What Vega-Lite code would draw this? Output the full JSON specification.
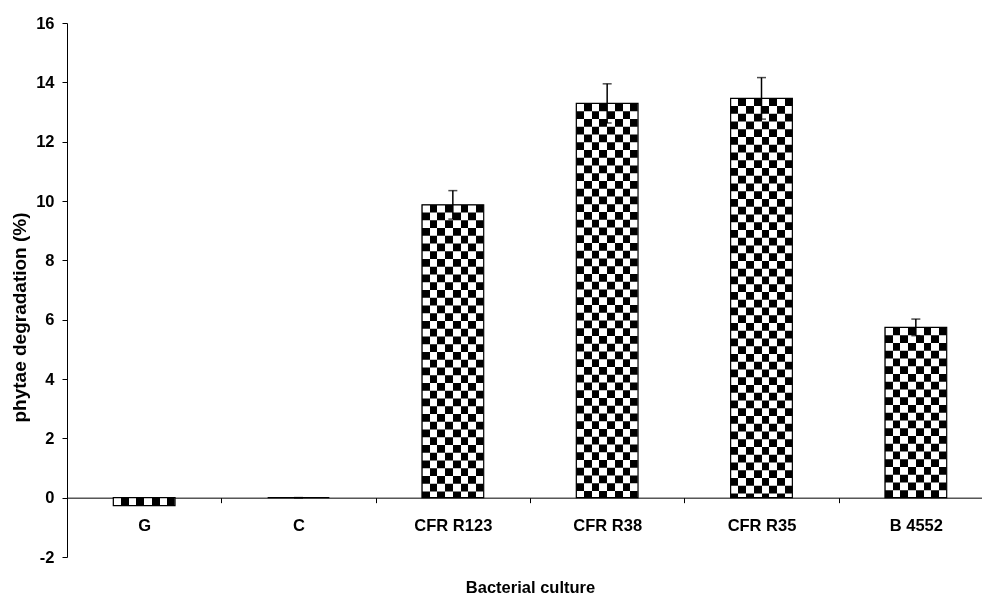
{
  "$schema": "https://vega.github.io/schema/vega-lite/v6.json",
  "autosize": "none",
  "width": 915,
  "height": 534,
  "padding": {"left": 67, "top": 23, "right": 0, "bottom": 38},
  "background": "white",
  "config": {"view": {"stroke": null}, "font": "Liberation Sans"},
  "data": {
    "values": [
      {"culture": "G", "value": -0.27, "lo": null, "hi": null},
      {"culture": "C", "value": 0, "lo": 0, "hi": 0},
      {"culture": "CFR R123", "value": 9.87, "lo": 9.39, "hi": 10.35},
      {"culture": "CFR R38", "value": 13.29, "lo": 12.63, "hi": 13.95},
      {"culture": "CFR R35", "value": 13.46, "lo": 12.76, "hi": 14.16},
      {"culture": "B 4552", "value": 5.74, "lo": 5.46, "hi": 6.02}
    ]
  },
  "encoding": {
    "x": {
      "field": "culture",
      "type": "nominal",
      "sort": null,
      "scale": {"range": [0, 926], "paddingInner": 0, "paddingOuter": 0},
      "axis": {
        "orient": "bottom",
        "offset": -59.33,
        "title": "Bacterial culture",
        "titleFont": "Liberation Sans",
        "titleFontSize": 16.5,
        "titleFontWeight": "bold",
        "titleColor": "black",
        "titleX": 463,
        "titleY": 94.5,
        "titleBaseline": "alphabetic",
        "labelAngle": 0,
        "labelFont": "Liberation Sans",
        "labelFontSize": 16.5,
        "labelFontWeight": "bold",
        "labelColor": "black",
        "labelPadding": 15,
        "tickBand": "extent",
        "tickSize": 5,
        "tickColor": "black",
        "domainColor": "black",
        "grid": false
      }
    }
  },
  "layer": [
    {
      "mark": {
        "type": "bar",
        "width": {"band": 0.4},
        "fill": {
          "gradient": "linear",
          "x1": 0, "y1": 0, "x2": 1, "y2": 0,
          "stops": [
            {"offset": 0, "color": "black"}, {"offset": 0.125, "color": "black"},
            {"offset": 0.125, "color": "white"}, {"offset": 0.25, "color": "white"},
            {"offset": 0.25, "color": "black"}, {"offset": 0.375, "color": "black"},
            {"offset": 0.375, "color": "white"}, {"offset": 0.5, "color": "white"},
            {"offset": 0.5, "color": "black"}, {"offset": 0.625, "color": "black"},
            {"offset": 0.625, "color": "white"}, {"offset": 0.75, "color": "white"},
            {"offset": 0.75, "color": "black"}, {"offset": 0.875, "color": "black"},
            {"offset": 0.875, "color": "white"}, {"offset": 1, "color": "white"}
          ]
        },
        "stroke": null
      },
      "encoding": {
        "y": {
          "field": "value",
          "type": "quantitative",
          "scale": {"domain": [-2, 16], "nice": false, "zero": false},
          "axis": {
            "values": [-2, 0, 2, 4, 6, 8, 10, 12, 14, 16],
            "labelExpr": "'' + datum.value",
            "title": "phytae degradation (%)",
            "titleFont": "Liberation Sans",
            "titleFontSize": 19,
            "titleFontWeight": "bold",
            "titleColor": "black",
            "titleX": -48,
            "titleY": 294,
            "titleAlign": "center",
            "titleBaseline": "middle",
            "labelFont": "Liberation Sans",
            "labelFontSize": 16.5,
            "labelFontWeight": "bold",
            "labelColor": "black",
            "labelPadding": 8,
            "tickSize": 5,
            "tickColor": "black",
            "domainColor": "black",
            "grid": false
          }
        },
        "y2": {"datum": 0}
      }
    },
    {
      "mark": {
        "type": "rule",
        "strokeWidth": 61,
        "strokeDash": [7.75, 7.75],
        "strokeCap": "butt",
        "color": "white",
        "blend": "difference"
      },
      "encoding": {
        "y": {"field": "value", "type": "quantitative"},
        "y2": {"datum": 0}
      }
    },
    {
      "mark": {
        "type": "bar",
        "width": {"band": 0.4},
        "fill": "transparent",
        "stroke": "black",
        "strokeWidth": 1.2
      },
      "encoding": {
        "y": {"field": "value", "type": "quantitative"},
        "y2": {"datum": 0}
      }
    },
    {
      "mark": {"type": "rule", "color": "black", "strokeWidth": 1.5},
      "encoding": {
        "y": {"field": "lo", "type": "quantitative"},
        "y2": {"field": "hi"}
      }
    },
    {
      "mark": {"type": "tick", "color": "black", "size": 9, "thickness": 1.5, "orient": "horizontal"},
      "encoding": {
        "y": {"field": "hi", "type": "quantitative"}
      }
    },
    {
      "mark": {"type": "tick", "color": "black", "size": 9, "thickness": 1.5, "orient": "horizontal"},
      "encoding": {
        "y": {"field": "lo", "type": "quantitative"}
      }
    }
  ]
}
